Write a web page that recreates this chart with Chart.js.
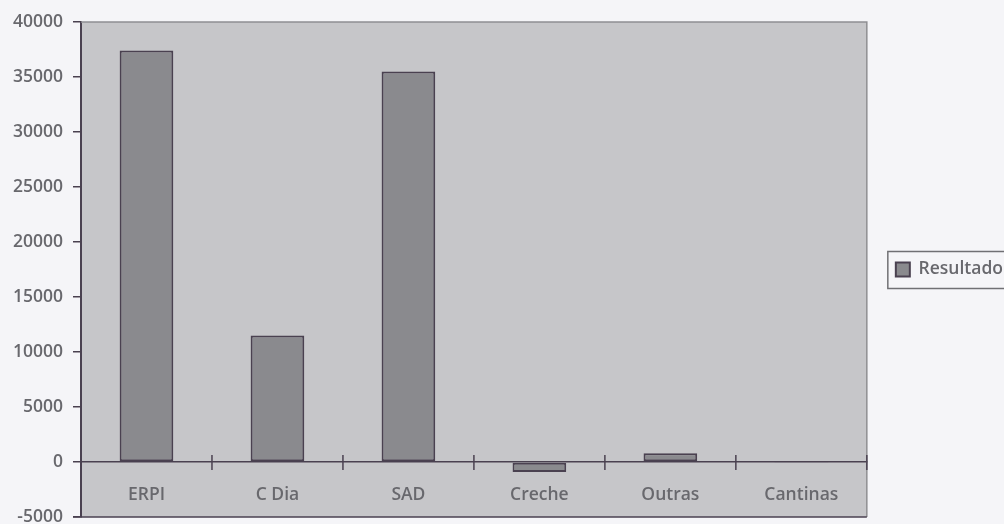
<!DOCTYPE html>
<html>
<head>
<meta charset="utf-8">
<script src="https://cdn.jsdelivr.net/npm/chart.js@4"></script>
<style>
  html, body { margin: 0; padding: 0; background: #f5f5f8; }
  #wrap { width: 1004px; height: 524px; position: relative; }
</style>
</head>
<body>
<div id="wrap"><canvas id="c"></canvas></div>
<script>
const categories = ["ERPI", "C Dia", "SAD", "Creche", "Outras", "Cantinas"];
const seriesName = "Resultado";
const resultado = [37400, 11500, 35500, -900, 800, -100];
const yTicks = [-5000, 0, 5000, 10000, 15000, 20000, 25000, 30000, 35000, 40000];

const TEXT = '#68686d';
const DARK = '#4a4150';
const FONT = { family: "'Open Sans', sans-serif", size: 17.5, weight: '600' };

const plotDeco = {
  id: 'plotDeco',
  beforeDraw(chart) {
    const { ctx, chartArea: a } = chart;
    ctx.save();
    ctx.fillStyle = '#c6c6c9';
    ctx.fillRect(a.left, a.top, a.right - a.left, a.bottom - a.top);
    ctx.restore();
  },
  afterDraw(chart) {
    const { ctx, chartArea: a, scales } = chart;
    ctx.save();
    ctx.strokeStyle = '#8e8e92';
    ctx.lineWidth = 1.5;
    ctx.beginPath();
    ctx.moveTo(a.left, a.top); ctx.lineTo(a.right, a.top); ctx.lineTo(a.right, a.bottom);
    ctx.stroke();
    ctx.strokeStyle = DARK;
    ctx.beginPath();
    ctx.moveTo(a.left - 8, a.bottom); ctx.lineTo(a.right, a.bottom);
    ctx.stroke();
    const x = scales.x, y = scales.y;
    const y0 = y.getPixelForValue(0);
    const bounds = [];
    for (let i = 0; i < categories.length - 1; i++) {
      bounds.push((x.getPixelForValue(i) + x.getPixelForValue(i + 1)) / 2);
    }
    bounds.push(a.right);
    bounds.forEach(bx => {
      ctx.beginPath();
      ctx.moveTo(bx, y0 - 7); ctx.lineTo(bx, y0 + 8);
      ctx.stroke();
    });
    const lg = chart.legend;
    if (lg && lg.legendHitBoxes && lg.legendHitBoxes.length) {
      const hb = lg.legendHitBoxes[0];
      ctx.strokeStyle = '#707074';
      ctx.lineWidth = 1.5;
      const cy = hb.top + hb.height / 2;
      ctx.strokeRect(hb.left - 8, cy - 18, 200, 37);
    }
    ctx.restore();
  }
};

new Chart(document.getElementById('c'), {
  type: 'bar',
  data: {
    labels: categories,
    datasets: [{
      label: seriesName,
      data: resultado,
      backgroundColor: '#8a8a8e',
      borderColor: DARK,
      borderWidth: 2,
      borderSkipped: false,
      categoryPercentage: 1.0,
      barPercentage: 0.41
    }]
  },
  options: {
    responsive: true,
    maintainAspectRatio: false,
    animation: false,
    layout: { padding: { top: 22, bottom: 7, left: 0, right: -9 } },
    plugins: {
      tooltip: { enabled: false },
      legend: {
        position: 'right',
        labels: {
          boxWidth: 14,
          boxHeight: 14,
          padding: 29,
          color: TEXT,
          font: FONT
        }
      }
    },
    scales: {
      x: {
        position: { y: 0 },
        offset: true,
        grid: { offset: true, drawOnChartArea: false, drawTicks: false, tickLength: 8, color: DARK, lineWidth: 1.5 },
        border: { display: true, color: DARK, width: 1.5 },
        ticks: { padding: 23, color: TEXT, font: FONT }
      },
      y: {
        min: -5000,
        max: 40000,
        afterBuildTicks(scale) { scale.ticks = yTicks.map(v => ({ value: v })); },
        afterFit(scale) { scale.width = 81; scale.paddingTop = 0; scale.paddingBottom = 0; },
        grid: { drawOnChartArea: false, drawTicks: true, tickLength: 8, color: DARK, lineWidth: 1.5 },
        border: { display: true, color: DARK, width: 2 },
        ticks: { padding: 10, color: TEXT, font: FONT, callback: v => String(v) }
      }
    }
  },
  plugins: [plotDeco]
});
</script>
</body>
</html>
